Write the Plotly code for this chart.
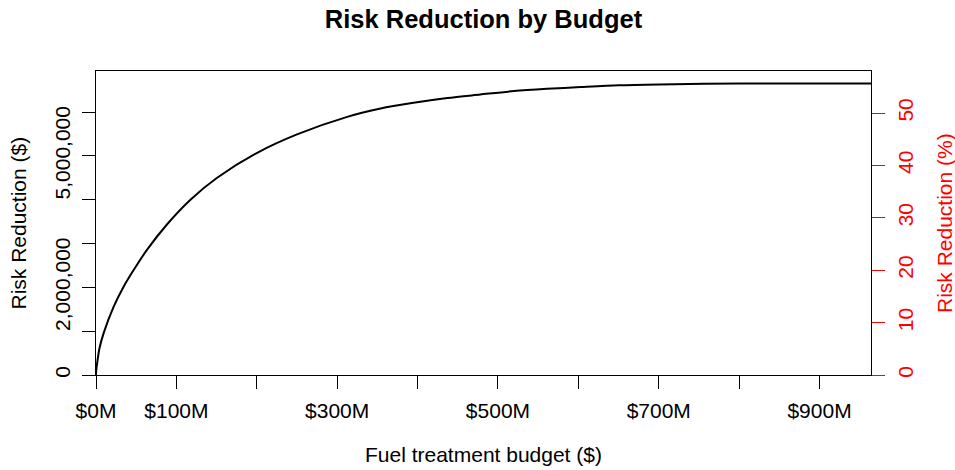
import plotly.graph_objects as go

# Fuel treatment budget (millions of $) and risk reduction (millions of $)
budget_m = [0, 0.4, 1.4, 4.2, 9.6, 22, 34.5, 47, 63.6, 88.5, 117.5, 150.7, 200.5,
            250, 312.5, 354, 395, 437, 478, 520, 561, 603, 650, 700, 800, 964]
risk_m = [0, 0.12, 0.27, 0.6, 0.96, 1.56, 2.02, 2.40, 2.86, 3.44, 4.00, 4.50, 5.07,
          5.49, 5.89, 6.08, 6.21, 6.32, 6.40, 6.48, 6.53, 6.57, 6.61, 6.63, 6.65, 6.65]
total_risk_m = 11.96  # total risk, so that plateau ~55.6%

x_tickvals_m = [0, 100, 200, 300, 400, 500, 600, 700, 800, 900]
x_ticktext = ["$0M", "$100M", "", "$300M", "", "$500M", "", "$700M", "", "$900M"]
y_tickvals = [0, 1e6, 2e6, 3e6, 4e6, 5e6, 6e6]
y_ticktext = ["0", "", "2,000,000", "", "", "5,000,000", ""]
y2_tickvals = [0, 10, 20, 30, 40, 50]

x = [b * 1e6 for b in budget_m]
y = [r * 1e6 for r in risk_m]
pct = [r / total_risk_m * 100 for r in risk_m]

FONT = "Liberation Sans, Arial, sans-serif"
FS = 21

fig = go.Figure()
fig.add_trace(go.Scatter(x=x, y=y, mode="lines", line=dict(color="black", width=2, shape="spline", smoothing=0.8),
                         showlegend=False, hoverinfo="skip"))
fig.add_trace(go.Scatter(x=x, y=pct, mode="lines", yaxis="y2", opacity=0,
                         line=dict(color="red", width=1), showlegend=False, hoverinfo="skip"))

fig.update_layout(
    width=955, height=470,
    margin=dict(l=96, r=84, t=71, b=95),
    paper_bgcolor="white", plot_bgcolor="white",
    font=dict(family=FONT, size=FS, color="black"),
    title=dict(text="<b>Risk Reduction by Budget</b>", x=0.5, xref="paper", xanchor="center",
               y=1 - 19 / 470, yanchor="middle", yref="container",
               font=dict(size=25.5, family=FONT, color="black")),
    xaxis=dict(range=[0, 964e6], tickvals=[v * 1e6 for v in x_tickvals_m], ticktext=x_ticktext,
               ticks="outside", ticklen=13, tickcolor="black", tickwidth=1,
               showline=True, linecolor="black", linewidth=1, mirror=True,
               showgrid=False, zeroline=False, tickfont=dict(size=FS), ticklabelstandoff=4),
    yaxis=dict(range=[0, 6.937e6], tickvals=y_tickvals, ticktext=y_ticktext,
               ticks="outside", ticklen=13, tickcolor="black", tickwidth=1, tickangle=-90,
               showline=True, linecolor="black", linewidth=1, mirror=True,
               showgrid=False, zeroline=False, tickfont=dict(size=FS), ticklabelstandoff=4),
    yaxis2=dict(range=[0, 58.02], overlaying="y", side="right", tickvals=y2_tickvals,
                ticks="outside", ticklen=13, tickcolor="red", tickwidth=1, tickangle=-90,
                showline=False, showgrid=False, zeroline=False,
                tickfont=dict(size=FS, color="red"), ticklabelstandoff=3),
    annotations=[
        dict(text="Fuel treatment budget ($)", xref="paper", yref="paper",
             x=0.5, y=(375.2 - 455) / 304, xanchor="center", yanchor="middle",
             showarrow=False, font=dict(size=FS, color="black")),
        dict(text="Risk Reduction ($)", xref="paper", yref="paper",
             x=(17.5 - 96) / 775, y=0.5, xanchor="center", yanchor="middle", textangle=-90,
             showarrow=False, font=dict(size=FS, color="black")),
        dict(text="Risk Reduction (%)", xref="paper", yref="paper",
             x=(944 - 96) / 775, y=0.5, xanchor="center", yanchor="middle", textangle=-90,
             showarrow=False, font=dict(size=FS, color="red")),
    ],
)

fig.write_html("out.html", config={"displayModeBar": False},
               post_script="document.body.style.margin='0px';")
